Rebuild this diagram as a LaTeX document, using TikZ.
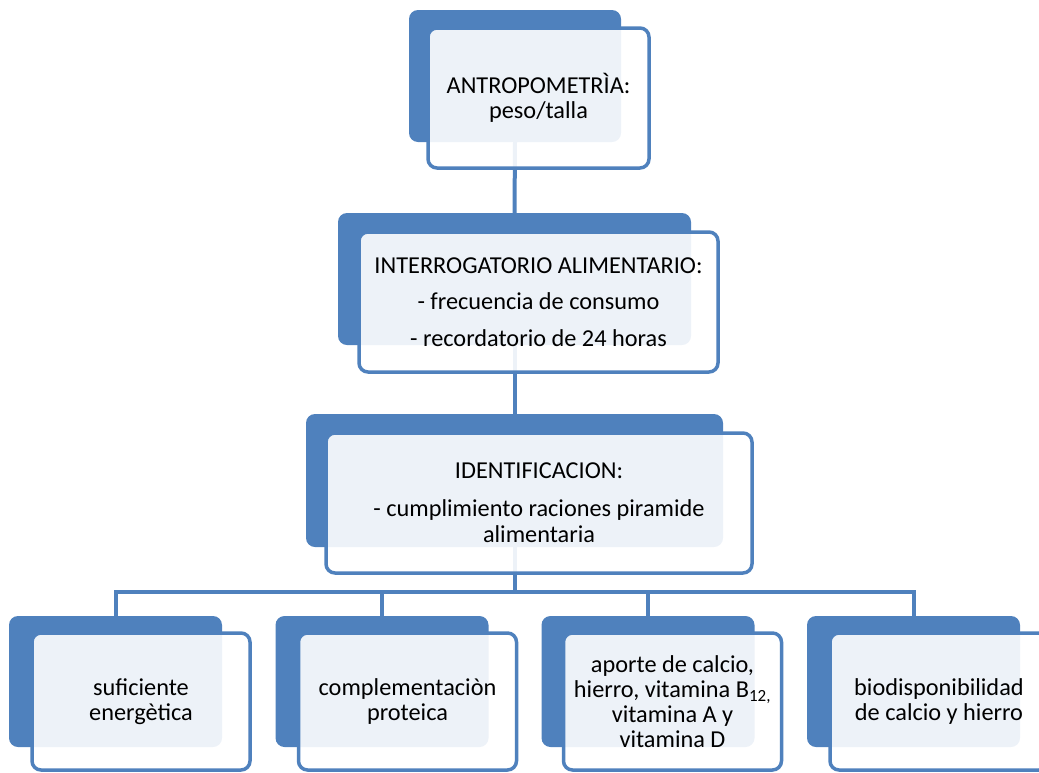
\documentclass[tikz,border=0pt]{standalone}
\usepackage{fontspec}
\setmainfont{Carlito}
\definecolor{accent}{HTML}{4F81BD}
\begin{document}
\begin{tikzpicture}[x=1pt,y=-1pt,
  back/.style={rectangle, rounded corners=9pt, fill=accent, inner sep=0pt},
  front/.style={rectangle, rounded corners=9pt, draw=accent, line width=3.5pt,
    fill=white, fill opacity=0.9, text opacity=1, inner sep=2pt, align=center,
    font=\fontsize{24.3}{25}\selectfont},
  link/.style={draw=accent, line width=4pt}]
\useasboundingbox (0,0) rectangle (1039,772);
% back boxes
\node[back, minimum width=212pt, minimum height=132pt] (d1) at (515,76) {};
\node[back, minimum width=353pt, minimum height=132pt] (d2) at (514.5,279) {};
\node[back, minimum width=417pt, minimum height=133pt] (d3) at (514.5,480.5) {};
\node[back, minimum width=213pt, minimum height=131pt] (d4) at (115.5,681.5) {};
\node[back, minimum width=213pt, minimum height=131pt] (d5) at (382,681.5) {};
\node[back, minimum width=213pt, minimum height=131pt] (d6) at (648,681.5) {};
\node[back, minimum width=213pt, minimum height=131pt] (d7) at (913.5,681.5) {};
\coordinate (busy) at (0,592);
% connectors
\draw[link] (d1.south) -- (d2.north);
\draw[link] (d2.south) -- (d3.north);
\draw[link] (d3.south) -- (d3.south |- busy);
\draw[link] (d4.north) -- (d4.north |- busy) -| (d7.north);
\draw[link] (d5.north) -- (d5.north |- busy);
\draw[link] (d6.north) -- (d6.north |- busy);
% front boxes
\node[front, minimum width=221pt, minimum height=140pt] (t1) at (538.5,98)
  {ANTROPOMETRÌA:\\peso/talla};
\node[front, minimum width=359pt, minimum height=140pt] (t2) at (538.5,302)
  {INTERROGATORIO ALIMENTARIO:\\[11pt]- frecuencia de consumo\\[12pt]- recordatorio de 24 horas};
\node[front, minimum width=426pt, minimum height=140pt] (t3) at (539,503)
  {IDENTIFICACION:\\[13pt]- cumplimiento raciones piramide\\[1pt]alimentaria};
\node[front, minimum width=218pt, minimum height=137pt] (t4) at (141,701.5)
  {suficiente\\energètica};
\node[front, minimum width=218pt, minimum height=137pt] (t5) at (407.5,701.5)
  {complementaciòn\\proteica};
\node[front, minimum width=218pt, minimum height=137pt] (t6) at (672.5,701.5)
  {aporte de calcio,\\hierro, vitamina B\textsubscript{12,}\\vitamina A y\\vitamina D};
\node[front, minimum width=218pt, minimum height=137pt] (t7) at (939,701.5)
  {biodisponibilidad\\de calcio y hierro};
\end{tikzpicture}
\end{document}
